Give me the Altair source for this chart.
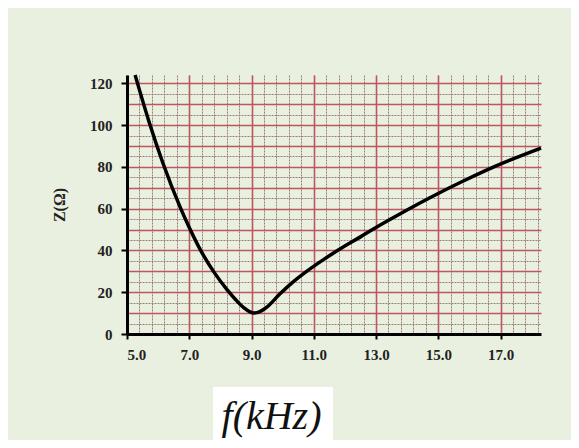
import altair as alt
import pandas as pd

# Curve
freq_khz = [5.26, 5.7, 6.15, 6.7, 7.0, 7.35, 7.8, 8.2, 8.5, 8.75, 8.95, 9.1, 9.25, 9.5,
            9.9, 10.3, 10.77, 11.3, 11.8, 12.5, 13.0, 13.65, 14.7, 15.77, 16.86, 18.3]
impedance = [124, 102, 82, 61, 51, 40.5, 29.5, 21.5, 16.3, 12.6, 10.6, 10.1, 10.6, 13,
             19, 24.5, 30, 35.5, 40.3, 46.5, 51, 56.5, 65, 73, 80.5, 89]

x_ticks = [5, 7, 9, 11, 13, 15, 17]
y_ticks = [0, 20, 40, 60, 80, 100, 120]
x_major_grid = [5, 7, 9, 11, 13, 15, 17]
x_minor_grid = [round(5 + 0.4 * i, 2) for i in range(1, 34)]
y_major_grid = [10, 20, 30, 40, 50, 60, 70, 80, 90, 100, 110, 120]
y_minor_grid = [5, 15, 25, 35, 45, 55, 65, 75, 85, 95, 105, 115]

df = pd.DataFrame({"f": freq_khz, "z": impedance})

xs = alt.Scale(domain=[5, 18.3], nice=False, zero=False)
ys = alt.Scale(domain=[0, 124], nice=False)

BG = "#EAF0DF"
SERIF = "Liberation Serif"

def grid_axis_x(vals, color, dash, width):
    return alt.Axis(values=vals, grid=True, gridColor=color, gridDash=dash, gridWidth=width,
                    labels=False, ticks=False, domain=False, title=None, orient="bottom")

def grid_axis_y(vals, color, dash, width):
    return alt.Axis(values=vals, grid=True, gridColor=color, gridDash=dash, gridWidth=width,
                    labels=False, ticks=False, domain=False, title=None, orient="left")

base = alt.Chart(df)

minor = base.mark_line(opacity=0).encode(
    x=alt.X("f:Q", scale=xs, axis=grid_axis_x(x_minor_grid, "#9a7c78", [2, 1], 1)),
    y=alt.Y("z:Q", scale=ys, axis=grid_axis_y(y_minor_grid, "#9a7c78", [2, 1], 1)),
)
major = base.mark_line(opacity=0).encode(
    x=alt.X("f:Q", scale=xs, axis=grid_axis_x(x_major_grid, "#bd5660", [], 1.6)),
    y=alt.Y("z:Q", scale=ys, axis=grid_axis_y(y_major_grid, "#bd5660", [], 1.6)),
)

box = base.mark_rect(color="white").encode(
    x=alt.value(86), x2=alt.value(206), y=alt.value(312), y2=alt.value(368)
)

curve = base.mark_line(color="black", strokeWidth=3.5, interpolate="monotone").encode(
    x=alt.X("f:Q", scale=xs, axis=alt.Axis(
        values=x_ticks, format=".1f", grid=False, orient="bottom",
        title="f(kHz)", titleFont=SERIF, titleFontStyle="italic", titleFontWeight="normal",
        titleFontSize=40, titleColor="#111", titleX=144, titleY=94, titleBaseline="alphabetic",
        labelFont=SERIF, labelFontWeight="bold", labelFontSize=15, labelColor="#222",
        labelPadding=8, domainColor="black", domainWidth=3, tickColor="black",
        tickWidth=2, tickSize=5, zindex=1)),
    y=alt.Y("z:Q", scale=ys, axis=alt.Axis(
        values=y_ticks, grid=False, orient="left",
        title="Z(Ω)", titleFont=SERIF, titleFontWeight="bold", titleFontSize=16,
        titleColor="#222", titlePadding=22,
        labelFont=SERIF, labelFontWeight="bold", labelFontSize=15, labelColor="#222",
        labelPadding=9, domainColor="black", domainWidth=3, tickColor="black",
        tickWidth=2, tickSize=6, zindex=1)),
)

chart = alt.layer(minor, major, box, curve).resolve_axis(
    x="independent", y="independent"
).properties(
    width=414, height=259,
    autosize=alt.AutoSizeParams(type="none"),
    padding={"left": 119, "top": 67, "right": 30, "bottom": 106},
    background=BG,
).configure_view(stroke=None)

chart.save("out.html", embed_options={"renderer": "svg", "actions": False})
